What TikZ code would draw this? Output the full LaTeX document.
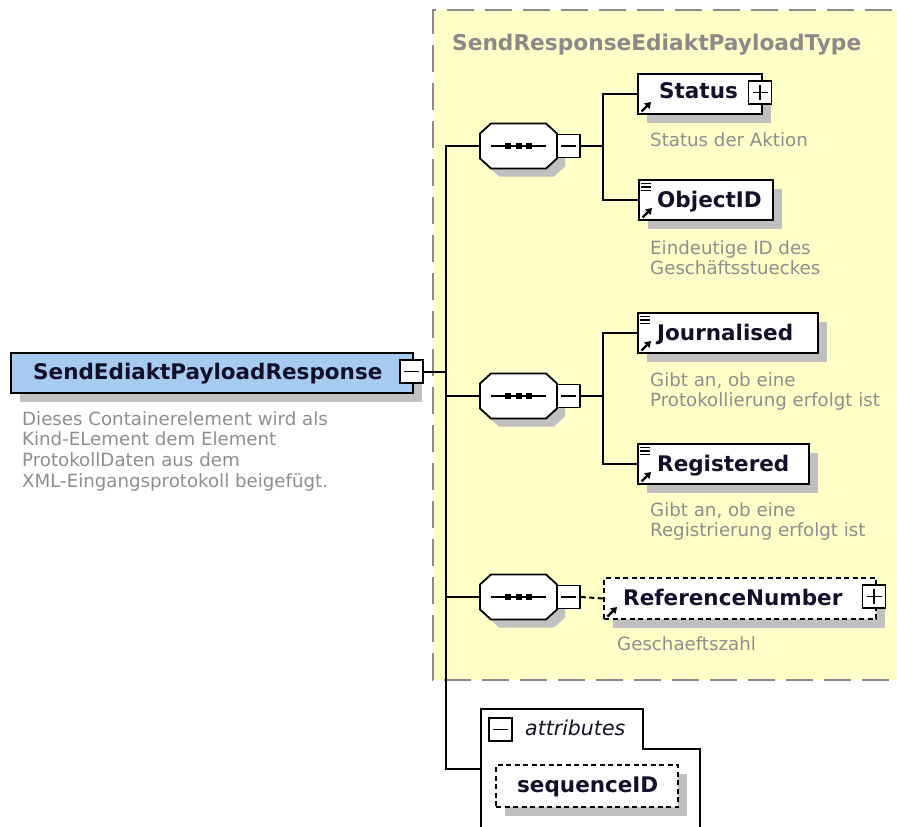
\documentclass[tikz,border=0pt]{standalone}
\usepackage{fontspec}
\setmainfont{DejaVu Sans}
\usetikzlibrary{arrows.meta,shadows}

\definecolor{typebg}{HTML}{FFFFC8}
\definecolor{typeframe}{HTML}{8A8A8A}
\definecolor{elemblue}{HTML}{A6CAF0}
\definecolor{shadowgray}{HTML}{C0C0C0}
\definecolor{descgray}{HTML}{8E8E8E}
\definecolor{namecol}{HTML}{10102A}

\tikzset{
  conn/.style={line width=2pt, black},
  boxshadow/.style={general shadow={fill=shadowgray, shadow xshift=9pt, shadow yshift=-9pt}},
  elembox/.style={draw=black, line width=2pt, fill=white, inner sep=0pt, anchor=north west, boxshadow},
  optbox/.style={elembox, dash pattern=on 5pt off 3.5pt},
  ename/.style={anchor=base west, inner sep=0pt, text=namecol, font=\fontsize{21.5}{25}\selectfont\bfseries},
  desc/.style={anchor=base west, inner sep=0pt, text=descgray, font=\fontsize{18.2}{20.9}\selectfont},
  pmbox/.style={draw=black, line width=1.6pt, fill=white, minimum size=23pt, inner sep=0pt},
  minusbox/.style={pmbox, path picture={
      \draw[line width=1.6pt] ([xshift=4pt]path picture bounding box.west) -- ([xshift=-4pt]path picture bounding box.east);}},
  plusbox/.style={pmbox, path picture={
      \draw[line width=1.6pt] ([xshift=4pt]path picture bounding box.west) -- ([xshift=-4pt]path picture bounding box.east);
      \draw[line width=1.6pt] ([yshift=-4pt]path picture bounding box.north) -- ([yshift=4pt]path picture bounding box.south);}},
  seqbox/.style={rectangle, minimum width=77pt, minimum height=45pt, inner sep=0pt},
}

% reference arrow in the lower left corner of an element box
\newcommand\refarrow[1]{%
  \draw[line width=2.4pt, -{Triangle[length=6pt,width=7.5pt]}]
    ([xshift=4.5pt,yshift=3.5pt]#1.south west) -- ([xshift=14pt,yshift=13pt]#1.south west);}
% three short lines in the upper left corner (simple content)
\newcommand\simplelines[1]{%
  \foreach \d in {4.5,8,11.5}
    \draw[line width=1.2pt] ([xshift=2.5pt,yshift=-\d pt]#1.north west) -- ([xshift=12.5pt,yshift=-\d pt]#1.north west);}
% sequence compositor drawn around a named placeholder node
\newcommand\seqshape[1]{%
  \begin{scope}[shift={(#1.center)}]
    \fill[shadowgray] (-38.5+8,-12.5+8) -- (-27.5+8,-22.5+8) -- (27.5+8,-22.5+8) -- (38.5+8,-12.5+8)
      -- (38.5+8,12.5+8) -- (27.5+8,22.5+8) -- (-27.5+8,22.5+8) -- (-38.5+8,12.5+8) -- cycle;
    \draw[line width=1.8pt, fill=white] (-38.5,-12.5) -- (-27.5,-22.5) -- (27.5,-22.5) -- (38.5,-12.5)
      -- (38.5,12.5) -- (27.5,22.5) -- (-27.5,22.5) -- (-38.5,12.5) -- cycle;
    \draw[line width=1.8pt] (-27.5,0) -- (27.5,0);
    \foreach \dx in {-10.5,0,10.5}
      \fill (\dx-3,-3) rectangle (\dx+3,3);
  \end{scope}}

\begin{document}
\begin{tikzpicture}[x=1pt, y=-1pt]
  \useasboundingbox (0,0) rectangle (897,827);
  \clip (0,0) rectangle (897,827);
  \fill[white] (0,0) rectangle (897,827);

  % complex type frame
  \fill[typebg] (433,10) rectangle (930,680);
  \draw[typeframe, line width=2pt, dash pattern=on 27pt off 11pt]
    (930,10) -- (433,10) -- (433,680) -- (930,680);
  \node[anchor=base west, inner sep=0pt, text=typeframe, font=\fontsize{21.7}{25}\selectfont\bfseries]
    (typename) at (452,50) {SendResponseEdiaktPayloadType};

  % root element
  \node[elembox, fill=elemblue, minimum width=402pt, minimum height=40pt] (main) at (10,352) {};
  \node[ename] (mainname) at (33,379) {SendEdiaktPayloadResponse};
  \node[minusbox] (mainminus) at (411.5,371.5) {};
  \node[desc] (maindesc) at (22,425) {\vtop{\hbox{Dieses Containerelement wird als}
    \hbox{Kind-ELement dem Element}\hbox{ProtokollDaten aus dem}\hbox{XML-Eingangsprotokoll beigefügt.}}};

  % sequence compositors
  \node[seqbox] (seq1) at (518.5,146) {};
  \node[seqbox] (seq2) at (518.5,396) {};
  \node[seqbox] (seq3) at (518.5,597) {};
  \seqshape{seq1}
  \seqshape{seq2}
  \seqshape{seq3}
  \node[minusbox] (seq1minus) at (568.5,146) {};
  \node[minusbox] (seq2minus) at (568.5,396) {};
  \node[minusbox] (seq3minus) at (568.5,597) {};

  % child elements
  \node[elembox, minimum width=124pt, minimum height=40pt] (status) at (637,73) {};
  \node[ename] (statusname) at (659,98) {Status};
  \node[plusbox] (statusplus) at (760,92.5) {};
  \refarrow{status}
  \node[desc] (statusdesc) at (650,146) {Status der Aktion};

  \node[elembox, minimum width=134pt, minimum height=40pt] (objectid) at (638,179) {};
  \node[ename] (objectidname) at (657,207) {ObjectID};
  \refarrow{objectid}
  \simplelines{objectid}
  \node[desc] (objectiddesc) at (650,254) {\vtop{\hbox{Eindeutige ID des}\hbox{Geschäftsstueckes}}};

  \node[elembox, minimum width=180pt, minimum height=40pt] (journalised) at (637,312) {};
  \node[ename] (journalisedname) at (657,340) {Journalised};
  \refarrow{journalised}
  \simplelines{journalised}
  \node[desc] (journaliseddesc) at (650,386) {\vtop{\hbox{Gibt an, ob eine}\hbox{Protokollierung erfolgt ist}}};

  \node[elembox, minimum width=171pt, minimum height=40pt] (registered) at (637,443) {};
  \node[ename] (registeredname) at (657,471) {Registered};
  \refarrow{registered}
  \simplelines{registered}
  \node[desc] (registereddesc) at (650,516) {\vtop{\hbox{Gibt an, ob eine}\hbox{Registrierung erfolgt ist}}};

  \node[optbox, minimum width=272pt, minimum height=41pt] (refnum) at (603,577) {};
  \node[ename] (refnumname) at (623,605) {ReferenceNumber};
  \node[plusbox] (refnumplus) at (874,596.5) {};
  \refarrow{refnum}
  \node[desc] (refnumdesc) at (617,650) {Geschaeftszahl};

  % attribute group
  \draw[line width=2pt, fill=white] (481,840) -- (481,709) -- (643,709) -- (643,749) -- (700,749) -- (700,840);
  \node[minusbox] (attrminus) at (500.5,729.5) {};
  \node[anchor=base west, inner sep=0pt, text=namecol, font=\fontsize{20.5}{24}\selectfont\itshape]
    (attrlabel) at (525,735) {attributes};
  \node[optbox, minimum width=182pt, minimum height=42pt] (seqid) at (495,764) {};
  \node[ename] (seqidname) at (517,792) {sequenceID};
  \coordinate (attrin) at (481,769);

  % connectors
  \coordinate (trunk) at (446,371.5);
  \coordinate (fork1) at (603,146);
  \coordinate (fork2) at (603,396);
  \draw[conn] (mainminus.east) -- (trunk);
  \draw[conn] (seq1.west) -| (trunk |- attrin) -- (attrin);
  \draw[conn] (seq2.west) -- (seq2.west -| trunk);
  \draw[conn] (seq3.west) -- (seq3.west -| trunk);

  \draw[conn] (seq1minus.east) -- (fork1);
  \draw[conn] (status.west) -| (fork1 |- objectid.west) -- (objectid.west);
  \draw[conn] (seq2minus.east) -- (fork2);
  \draw[conn] (journalised.west) -| (fork2 |- registered.west) -- (registered.west);
  \draw[conn, dash pattern=on 5pt off 3.5pt] (seq3minus.east) -- (refnum.west);
\end{tikzpicture}
\end{document}
